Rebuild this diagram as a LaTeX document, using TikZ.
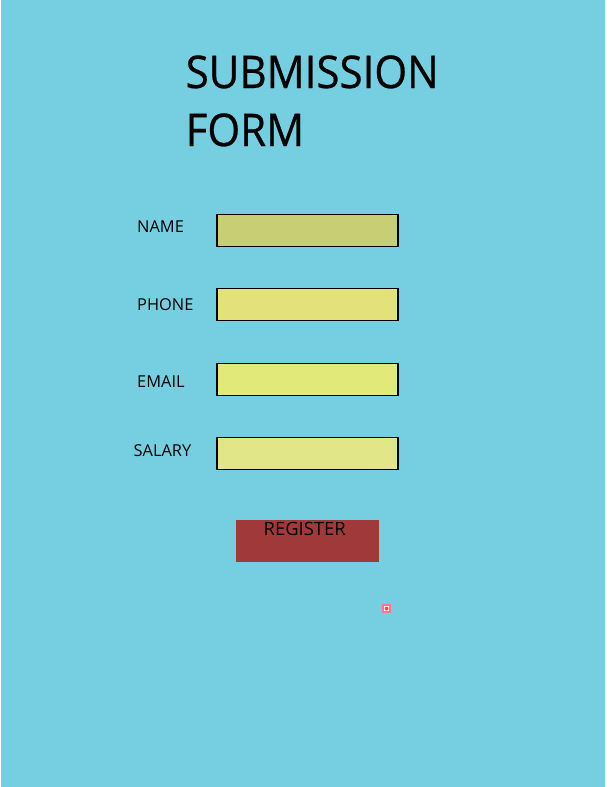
\documentclass[tikz,border=0pt]{standalone}
\usepackage{fontspec}
\setmainfont{Open Sans}
\newfontfamily\titlefont[FakeStretch=0.935,FakeBold=0.6]{Open Sans}
\usetikzlibrary{positioning}
\definecolor{fondo}{HTML}{76CEE1}
\tikzset{
    campo/.style={draw=black, line width=1.1pt, minimum width=181pt, minimum height=32pt, inner sep=0pt},
    etiqueta/.style={anchor=base west, inner sep=0pt, font=\fontsize{16.4}{18}\selectfont},
    titulo/.style={anchor=base west, inner sep=0pt, font=\titlefont\fontsize{45}{50}\selectfont}
}
\begin{document}
\begin{tikzpicture}[x=1pt, y=-1pt]

    % Fondo
    \useasboundingbox (0,0) rectangle (609,787);
    \fill[fondo] (1,0) rectangle (605,787);

    % Titulo
    \node[titulo] (tit1) at (185.5,88) {SUBMISSION};
    \node[titulo] (tit2) at (185.5,146) {FORM};

    % Campos
    \node[campo, fill={rgb,255:red,200;green,206;blue,115}] (name) at (307.5,230.3) {};
    \node[campo, fill={rgb,255:red,226;green,225;blue,122}] (phone) at (307.5,304.7) {};
    \node[campo, fill={rgb,255:red,225;green,233;blue,120}] (email) at (307.5,379.3) {};
    \node[campo, fill={rgb,255:red,225;green,231;blue,136}] (salary) at (307.5,453.7) {};

    % Etiquetas
    \node[etiqueta] (lname) at (137,232) {NAME};
    \node[etiqueta] (lphone) at (137,310) {PHONE};
    \node[etiqueta] (lemail) at (137,387) {EMAIL};
    \node[etiqueta] (lsalary) at (133.5,456) {SALARY};

    % Boton
    \node[fill={rgb,255:red,160;green,58;blue,58}, minimum width=143pt, minimum height=42pt, inner sep=0pt] (boton) at (307.5,541) {};
    \node[etiqueta, font=\fontsize{18.4}{20}\selectfont] (lboton) at (263.5,535) {REGISTER};

    % Marca
    \node[draw={rgb,255:red,255;green,120;blue,130}, line width=1.5pt, fill=white, minimum size=7pt, inner sep=0pt] (marca) at (386.5,608.5) {};
    \fill[red!70!white] (marca.center) circle (2pt);

\end{tikzpicture}
\end{document}
